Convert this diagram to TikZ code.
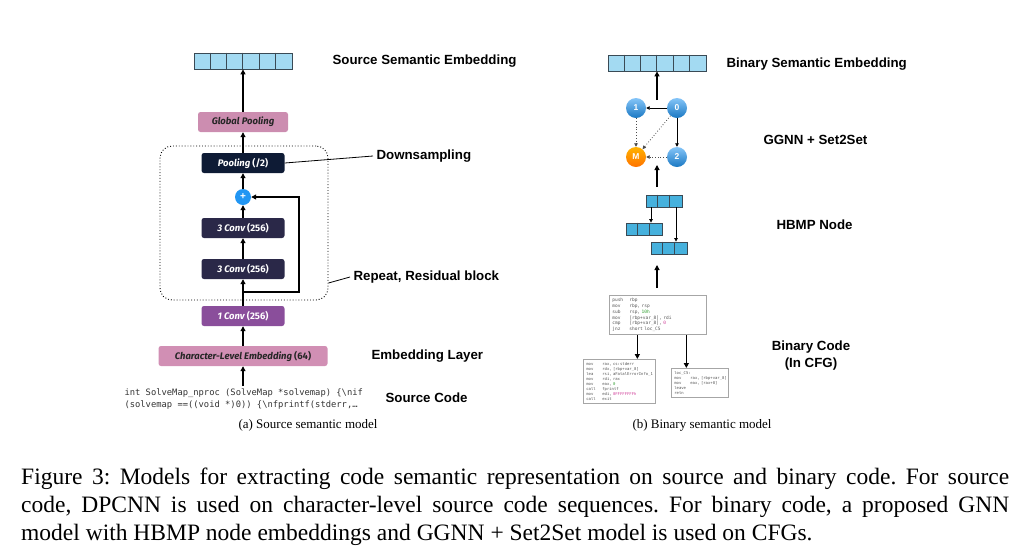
\documentclass[tikz,border=0pt]{standalone}
\usepackage{fontspec}
\setmainfont{Liberation Serif}
\setsansfont{Liberation Sans}
\setmonofont{DejaVu Sans Mono}
\newfontfamily\boxfont{Fira Sans}
\usetikzlibrary{arrows.meta,positioning}

\definecolor{cellblue}{HTML}{A3DAF2}
\definecolor{hbmpblue}{HTML}{46B1DD}
\definecolor{barline}{HTML}{3A4A55}
\definecolor{gpoolc}{HTML}{CC8DB0}
\definecolor{poolc}{HTML}{0E1B35}
\definecolor{convc}{HTML}{2A2848}
\definecolor{oneconvc}{HTML}{8A4E9B}
\definecolor{charembc}{HTML}{D18FB4}
\definecolor{plusc}{HTML}{2196F3}
\definecolor{asmgreen}{HTML}{2E9E2E}
\definecolor{asmpink}{HTML}{D0409A}
\definecolor{asmtext}{HTML}{555555}

\newlength\asmtab
\newcommand\asm[2]{\mbox{\makebox[\asmtab][l]{#1}#2}}

\begin{document}
\begin{tikzpicture}[x=1pt,y=-1pt,
    arr/.style={-{Triangle[length=5pt,width=5pt]}, line width=1.1pt},
    layer/.style={rounded corners=2.5pt, minimum width=83, minimum height=20, inner sep=0,
      font=\boxfont\bfseries\itshape\fontsize{9.5}{11}\selectfont, text=white},
    lbl/.style={anchor=west, font=\sffamily\bfseries\fontsize{13.3}{15}\selectfont},
    embbar/.style={draw=barline, fill=cellblue, line width=0.8pt, minimum height=16, minimum width=98, inner sep=0},
    hbar/.style={draw=barline, fill=hbmpblue, line width=0.8pt, minimum height=12, minimum width=36, inner sep=0},
    gnode/.style={circle, minimum size=20, inner sep=0, font=\sffamily\bfseries\fontsize{8.5}{8.5}\selectfont, text=white},
    asmbox/.style={draw=gray!70, line width=0.7pt, inner sep=3pt, align=left, text=asmtext},
    subcap/.style={font=\fontsize{13}{15}\selectfont}]
\useasboundingbox (0,0) rectangle (1028,550);

% (a) source side
\node[embbar] (srcemb) at (243,61) {};
\foreach \i in {1,...,5}
  \draw[barline, line width=0.8pt] ([xshift=\i*98/6]srcemb.north west) -- ([xshift=\i*98/6]srcemb.south west);
\node[layer, fill=gpoolc, text=black!85, minimum width=90] (gpool) at (243,122) {Global Pooling};
\node[draw, dotted, line width=0.9pt, rounded corners=12, minimum width=168, minimum height=154] (block) at (244,223) {};
\node[layer, fill=poolc] (pool) at (243,163) {Pooling {\upshape (/2)}};
\node[circle, fill=plusc, text=white, minimum size=16, inner sep=0, font=\sffamily\bfseries] (plus) at (243,197) {+};
\node[layer, fill=convc] (conva) at (243,228) {3 Conv {\upshape (256)}};
\node[layer, fill=convc] (convb) at (243,269) {3 Conv {\upshape (256)}};
\node[layer, fill=oneconvc] (oneconv) at (243,316) {1 Conv {\upshape (256)}};
\node[layer, fill=charembc, text=black!85, minimum width=169] (charemb) at (243,356) {Character-Level Embedding {\upshape (64)}};
\node[anchor=west, align=left, text=black!80, font=\ttfamily\fontsize{8.8}{12}\selectfont] (srccode) at (121,399)
  {int SolveMap\_nproc (SolveMap *solvemap) \{\textbackslash nif\\(solvemap ==((void *)0)) \{\textbackslash nfprintf(stderr,…};

\coordinate (split) at (243,292);
\coordinate (resid) at (299,292);
\coordinate (codetop) at (243,386);

\draw[arr] (gpool) -- (srcemb);
\draw[arr] (pool) -- (gpool);
\draw[arr] (plus) -- (pool);
\draw[arr] (conva) -- (plus);
\draw[arr] (convb) -- (conva);
\draw[arr] (oneconv) -- (convb);
\draw[arr] (charemb) -- (oneconv);
\draw[arr] (codetop) -- (charemb);
\draw[arr] (split) -- (resid) |- (plus.east);

\node[lbl] (srcemblbl) at (329,61) {Source Semantic Embedding};
\node[lbl] (downlbl) at (373,156) {Downsampling};
\node[lbl] (repeatlbl) at (350,277) {Repeat, Residual block};
\node[lbl] (emblbl) at (368,356) {Embedding Layer};
\node[lbl] (codelbl) at (382,398) {Source Code};
\draw[line width=0.8pt] (pool.east) -- (downlbl.west);
\draw[line width=0.8pt] ([yshift=-60]block.east) -- (repeatlbl.west);

\node[subcap] (capa) at (308,425) {(a) Source semantic model};

% (b) binary side
\node[embbar] (binemb) at (657,63) {};
\foreach \i in {1,...,5}
  \draw[barline, line width=0.8pt] ([xshift=\i*98/6]binemb.north west) -- ([xshift=\i*98/6]binemb.south west);

\node[gnode, top color=plusc!55, bottom color=plusc!80!black] (n1) at (636,108) {1};
\node[gnode, top color=plusc!55, bottom color=plusc!80!black] (n0) at (677,108) {0};
\node[gnode, top color=orange!60!yellow, bottom color=orange!90!red] (nM) at (636,157) {M};
\node[gnode, top color=plusc!55, bottom color=plusc!80!black] (n2) at (677,157) {2};
\draw[-{Triangle[length=3.5pt,width=3.5pt]}, line width=0.8pt] (n0) -- (n1);
\draw[-{Triangle[length=3.5pt,width=3.5pt]}, line width=0.8pt] (n0) -- (n2);
\draw[-{Triangle[length=3.5pt,width=3.5pt]}, dotted, line width=0.8pt, black!70] (n1) -- (nM);
\draw[-{Triangle[length=3.5pt,width=3.5pt]}, dotted, line width=0.8pt, black!70] (n0) -- (nM);
\draw[-{Triangle[length=3.5pt,width=3.5pt]}, dotted, line width=0.8pt, black!70] (n2) -- (nM);

\coordinate (gout) at (657,100);
\coordinate (gin) at (657,165);
\coordinate (hout) at (657,187);
\coordinate (hin) at (657,265);
\coordinate (cfgout) at (657,288);
\draw[arr] (gout) -- (binemb);
\draw[arr] (hout) -- (gin);
\draw[arr] (cfgout) -- (hin);

\node[hbar] (htop) at (664,201) {};
\node[hbar] (hleft) at (644,229) {};
\node[hbar] (hright) at (669,248) {};
\foreach \b in {htop,hleft,hright}
  \foreach \i in {1,2}
    \draw[barline, line width=0.8pt] ([xshift=\i*12]\b.north west) -- ([xshift=\i*12]\b.south west);
\draw[-{Triangle[length=3.5pt,width=3.5pt]}, line width=0.8pt] ([xshift=-13]htop.south) -- ([xshift=-13]htop.south |- hleft.north);
\draw[-{Triangle[length=3.5pt,width=3.5pt]}, line width=0.8pt] ([xshift=12]htop.south) -- ([xshift=12]htop.south |- hright.north);

\setlength\asmtab{17pt}
\node[asmbox, anchor=north west, text width=91, minimum height=38, font=\ttfamily\fontsize{4.5}{5.8}\selectfont] (cfgtop) at (609,295)
  {\asm{push}{rbp}\\\asm{mov}{rbp, rsp}\\\asm{sub}{rsp, \textcolor{asmgreen}{10h}}\\\asm{mov}{[rbp+var\_8], rdi}\\\asm{cmp}{[rbp+var\_8], \textcolor{asmpink}{0}}\\\asm{jnz}{short loc\_C5}};
\setlength\asmtab{16pt}
\node[asmbox, anchor=north west, text width=66, minimum height=43, font=\ttfamily\fontsize{3.9}{5}\selectfont] (cfgleft) at (583,359)
  {\asm{mov}{rax, cs:stderr}\\\asm{mov}{rdx, [rbp+var\_8]}\\\asm{lea}{rsi, aFatalErrorInfo\_1}\\\asm{mov}{rdi, rax}\\\asm{mov}{eax, \textcolor{asmgreen}{0}}\\\asm{call}{fprintf}\\\asm{mov}{edi, \textcolor{asmpink}{0FFFFFFFFh}}\\\asm{call}{exit}};
\node[asmbox, anchor=north west, text width=51, minimum height=29, font=\ttfamily\fontsize{3.9}{5}\selectfont] (cfgright) at (671,368)
  {\mbox{loc\_C5:}\\\asm{mov}{rax, [rbp+var\_8]}\\\asm{mov}{eax, [rax+8]}\\\mbox{leave}\\\mbox{retn}};
\draw[arr] ([xshift=-20.5]cfgtop.south) -- ([xshift=-20.5]cfgtop.south |- cfgleft.north);
\draw[arr] ([xshift=28.5]cfgtop.south) -- ([xshift=28.5]cfgtop.south |- cfgright.north);

\node[lbl] (binemblbl) at (723,64) {Binary Semantic Embedding};
\node[lbl] (ggnnlbl) at (760,140) {GGNN + Set2Set};
\node[lbl] (hbmplbl) at (773,225) {HBMP Node};
\node[lbl, anchor=center, align=center, font=\sffamily\bfseries\fontsize{13.3}{17}\selectfont] (cfglbl) at (811,356) {Binary Code\\(In CFG)};

\node[subcap] (capb) at (702,425) {(b) Binary semantic model};

% caption
\node[anchor=north west, text width=988, align=justify, inner sep=0, font=\fontsize{23.5}{28}\selectfont\frenchspacing] (figcap) at (21,468)
  {Figure 3: Models for extracting code semantic representation on source and binary code. For source\linebreak
   code, DPCNN is used on character-level source code sequences. For binary code, a proposed GNN\linebreak
   model with HBMP node embeddings and GGNN + Set2Set model is used on CFGs.};
\end{tikzpicture}
\end{document}
